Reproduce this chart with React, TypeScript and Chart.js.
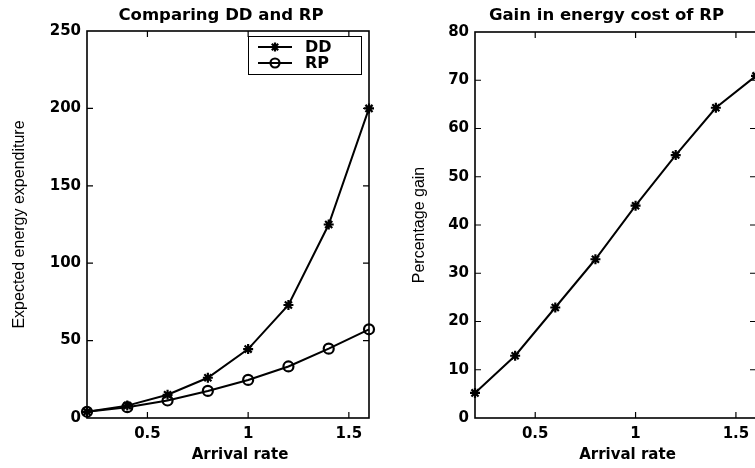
import React, { useEffect, useRef } from "react";
import { Chart, registerables } from "chart.js";

Chart.register(...registerables);

// ---- data ----
const arrivalRate = [0.2, 0.4, 0.6, 0.8, 1.0, 1.2, 1.4, 1.6];
const ddEnergy = [4, 8, 15, 26, 44.5, 73, 125, 200];
const rpEnergy = [4, 7, 11.3, 17.5, 24.6, 33.3, 44.8, 57.3];
const gainPct = [5.2, 12.9, 22.9, 32.9, 44, 54.5, 64.3, 70.9];
const xTickValues = [0.5, 1, 1.5];
const leftTitle = "Comparing DD and RP";
const rightTitle = "Gain in energy cost of RP";
const xLabel = "Arrival rate";
const leftYLabel = "Expected energy expenditure";
const rightYLabel = "Percentage gain";
const legendLabels = ["DD", "RP"];

const BOLD = "'DejaVu Sans', 'Liberation Sans', sans-serif";
const NARROW = "'Liberation Sans', Arial, sans-serif";

function drawStar(ctx: CanvasRenderingContext2D, x: number, y: number, r: number) {
  const d = r * Math.SQRT1_2;
  ctx.beginPath();
  ctx.moveTo(x - r, y); ctx.lineTo(x + r, y);
  ctx.moveTo(x, y - r); ctx.lineTo(x, y + r);
  ctx.moveTo(x - d, y - d); ctx.lineTo(x + d, y + d);
  ctx.moveTo(x - d, y + d); ctx.lineTo(x + d, y - d);
  ctx.stroke();
}

function decorPlugin(opts: {
  title: string;
  titleShift: number;
  xTitleShift: number;
  legend?: boolean;
}) {
  return {
    id: "decor",
    afterDraw(chart: any) {
      const { ctx, chartArea } = chart;
      const { left, right, top, bottom } = chartArea;
      const xs = chart.scales.x;
      const ys = chart.scales.y;
      ctx.save();
      ctx.strokeStyle = "#000";
      ctx.lineWidth = 1.6;
      ctx.strokeRect(left, top, right - left, bottom - top);
      ctx.lineWidth = 1.2;
      const L = 6;
      ctx.beginPath();
      for (const v of xTickValues) {
        const px = xs.getPixelForValue(v);
        ctx.moveTo(px, bottom); ctx.lineTo(px, bottom - L);
        ctx.moveTo(px, top); ctx.lineTo(px, top + L);
      }
      for (const t of ys.ticks) {
        if (t.value === ys.min || t.value === ys.max) continue;
        const py = ys.getPixelForValue(t.value);
        ctx.moveTo(left, py); ctx.lineTo(left + L, py);
        ctx.moveTo(right, py); ctx.lineTo(right - L, py);
      }
      ctx.stroke();

      // titles
      ctx.fillStyle = "#000";
      ctx.textAlign = "center";
      ctx.textBaseline = "middle";
      ctx.font = `bold 16.5px ${BOLD}`;
      ctx.fillText(opts.title, (left + right) / 2 + opts.titleShift, 16);
      ctx.font = `bold 15px ${BOLD}`;
      ctx.fillText(xLabel, (left + right) / 2 + opts.xTitleShift, 455);

      if (opts.legend) {
        const w = 113, h = 38;
        const lx = right - 8 - w, ly = top + 5;
        ctx.fillStyle = "#fff";
        ctx.fillRect(lx, ly, w, h);
        ctx.lineWidth = 1;
        ctx.strokeStyle = "#000";
        ctx.strokeRect(lx + 0.5, ly + 0.5, w, h);
        const rows = [ly + 11, ly + 27];
        rows.forEach((ry, i) => {
          ctx.lineWidth = 2;
          ctx.beginPath();
          ctx.moveTo(lx + 10, ry); ctx.lineTo(lx + 44, ry);
          ctx.stroke();
          ctx.lineWidth = 2.2;
          if (i === 0) drawStar(ctx, lx + 27, ry, 4.5);
          else { ctx.beginPath(); ctx.arc(lx + 27, ry, 4.5, 0, Math.PI * 2); ctx.stroke(); }
          ctx.fillStyle = "#000";
          ctx.font = `bold 16px ${BOLD}`;
          ctx.textAlign = "left";
          ctx.textBaseline = "middle";
          ctx.fillText(legendLabels[i], lx + 57, ry + 1);
        });
      }
      ctx.restore();
    },
  };
}

function makeXScale() {
  return {
    type: "linear",
    min: 0.2,
    max: 1.6,
    afterBuildTicks: (s: any) => { s.ticks = xTickValues.map((v) => ({ value: v })); },
    afterFit: (s: any) => { s.height = 50; },
    grid: { display: false, drawTicks: false },
    border: { display: false },
    ticks: {
      padding: 7,
      color: "#000",
      font: { family: BOLD, size: 15, weight: "bold" },
      maxRotation: 0,
      autoSkip: false,
      callback: (v: any) => String(v),
    },
  };
}

function makeYScale(max: number, step: number, width: number, label: string, titlePad: number) {
  return {
    type: "linear",
    min: 0,
    max,
    afterFit: (s: any) => { s.width = width; },
    grid: { display: false, drawTicks: false },
    border: { display: false },
    ticks: {
      stepSize: step,
      padding: 6,
      color: "#000",
      font: { family: BOLD, size: 15, weight: "bold" },
      callback: (v: any) => String(v),
    },
    title: {
      display: true,
      text: label,
      color: "#000",
      font: { family: NARROW, size: 16, weight: "normal" },
      padding: { top: titlePad, bottom: 0 },
    },
  };
}

function lineDs(label: string, data: number[], style: string) {
  return {
    label,
    data: arrivalRate.map((x, i) => ({ x, y: data[i] })),
    borderColor: "#000",
    borderWidth: 2,
    backgroundColor: "rgba(0,0,0,0)",
    pointStyle: style,
    pointRadius: 5,
    pointBorderWidth: 2.2,
    pointBorderColor: "#000",
    pointBackgroundColor: "rgba(0,0,0,0)",
    tension: 0,
    clip: false,
  };
}

export default function App() {
  const leftRef = useRef<HTMLCanvasElement>(null);
  const rightRef = useRef<HTMLCanvasElement>(null);

  useEffect(() => {
    const left = new Chart(leftRef.current!, {
      type: "line",
      data: {
        datasets: [lineDs("DD", ddEnergy, "star"), lineDs("RP", rpEnergy, "circle")],
      },
      options: {
        animation: false,
        responsive: false,
        devicePixelRatio: 1,
        layout: { padding: { top: 31, right: 11, bottom: 0, left: 0 } },
        plugins: { legend: { display: false }, title: { display: false }, tooltip: { enabled: false } },
        scales: {
          x: makeXScale() as any,
          y: makeYScale(250, 50, 87, leftYLabel, 10) as any,
        },
      },
      plugins: [decorPlugin({ title: leftTitle, titleShift: -7, xTitleShift: 12, legend: true }) as any],
    });
    const right = new Chart(rightRef.current!, {
      type: "line",
      data: { datasets: [lineDs("Gain", gainPct, "star")] },
      options: {
        animation: false,
        responsive: false,
        devicePixelRatio: 1,
        layout: { padding: { top: 32, right: 16, bottom: 0, left: 0 } },
        plugins: { legend: { display: false }, title: { display: false }, tooltip: { enabled: false } },
        scales: {
          x: makeXScale() as any,
          y: makeYScale(80, 10, 95, rightYLabel, 30) as any,
        },
      },
      plugins: [decorPlugin({ title: rightTitle, titleShift: -9, xTitleShift: 12 }) as any],
    });
    return () => { left.destroy(); right.destroy(); };
  }, []);

  return (
    <div style={{ position: "fixed", left: 0, top: 0, width: 755, height: 468, overflow: "hidden", background: "#fff" }}>
      <canvas ref={leftRef} width={380} height={468} style={{ position: "absolute", left: 0, top: 0 }} />
      <canvas ref={rightRef} width={392} height={468} style={{ position: "absolute", left: 380, top: 0 }} />
    </div>
  );
}
